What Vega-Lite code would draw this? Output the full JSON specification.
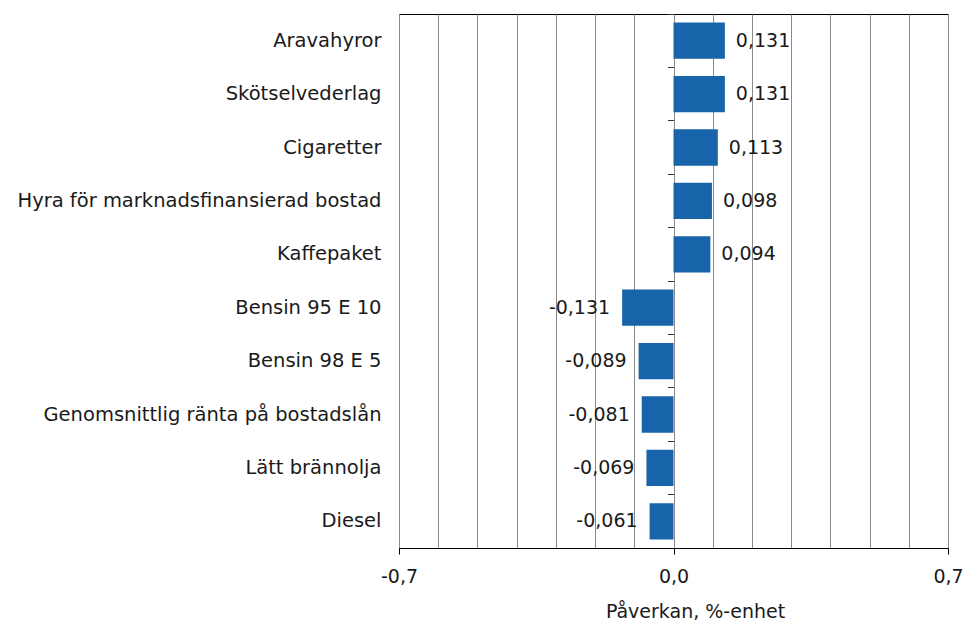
{
  "$schema": "https://vega.github.io/schema/vega-lite/v6.json",
  "width": 549,
  "height": 534,
  "autosize": {"type": "none"},
  "padding": {"left": 399, "top": 14, "right": 18, "bottom": 74},
  "background": "white",
  "config": {
    "locale": {"number": {"decimal": ",", "thousands": "\u00a0", "grouping": [3], "currency": ["", " €"], "minus": "-"}},
    "view": {"stroke": "#000000", "strokeWidth": 1},
    "font": "DejaVu Sans",
    "text": {"font": "DejaVu Sans", "fontSize": 19, "color": "#1a1a1a"}
  },
  "data": {
    "values": [
      {"kategori": "Aravahyror", "varde": 0.131},
      {"kategori": "Skötselvederlag", "varde": 0.131},
      {"kategori": "Cigaretter", "varde": 0.113},
      {"kategori": "Hyra för marknadsfinansierad bostad", "varde": 0.098},
      {"kategori": "Kaffepaket", "varde": 0.094},
      {"kategori": "Bensin 95 E 10", "varde": -0.131},
      {"kategori": "Bensin 98 E 5", "varde": -0.089},
      {"kategori": "Genomsnittlig ränta på bostadslån", "varde": -0.081},
      {"kategori": "Lätt brännolja", "varde": -0.069},
      {"kategori": "Diesel", "varde": -0.061}
    ]
  },
  "resolve": {"axis": {"x": "independent", "y": "independent"}},
  "layer": [
    {
      "mark": {"type": "bar", "color": "#1764ab"},
      "encoding": {
        "y": {
          "field": "kategori", "type": "nominal", "sort": null,
          "scale": {"paddingInner": 0.32, "paddingOuter": 0.16},
          "axis": {"title": null, "ticks": false, "domain": false, "grid": false, "labelFont": "DejaVu Sans", "labelFontSize": 19.5, "labelColor": "#1a1a1a", "labelPadding": 18, "labelLimit": 500}
        },
        "x": {
          "field": "varde", "type": "quantitative",
          "scale": {"domain": [-0.7, 0.7], "nice": false, "zero": false},
          "axis": {"values": [-0.7, 0, 0.7], "format": ".1f", "grid": false, "labelFlush": false, "domainColor": "#000000", "tickColor": "#000000", "tickSize": 6, "labelFont": "DejaVu Sans", "labelFontSize": 19, "labelColor": "#1a1a1a", "labelPadding": 13, "title": "Påverkan, %-enhet", "titleFont": "DejaVu Sans", "titleFontSize": 19, "titleFontWeight": "normal", "titleColor": "#1a1a1a", "titleX": 296, "titleY": 69, "titleBaseline": "alphabetic"}
        }
      }
    },
    {
      "transform": [{"filter": "datum.varde > 0"}],
      "mark": {"type": "text", "align": "left", "baseline": "middle", "dx": 11},
      "encoding": {
        "y": {
          "field": "kategori", "type": "nominal", "sort": null,
          "axis": {"orient": "left", "offset": -274.5, "labels": false, "domain": false, "grid": false, "ticks": true, "tickSize": 6, "tickColor": "#333333", "bandPosition": 0, "tickOffset": -9, "title": null}
        },
        "x": {
          "field": "varde", "type": "quantitative",
          "axis": {"orient": "top", "values": [-0.7, -0.6, -0.5, -0.4, -0.3, -0.2, -0.1, 0, 0.1, 0.2, 0.3, 0.4, 0.5, 0.6, 0.7], "grid": true, "gridColor": "#8a8a8a", "gridWidth": 1, "labels": false, "ticks": false, "domain": false, "title": null}
        },
        "text": {"field": "varde", "type": "quantitative", "format": ".3f"}
      }
    },
    {
      "transform": [{"filter": "datum.varde < 0"}],
      "mark": {"type": "text", "align": "right", "baseline": "middle", "dx": -12},
      "encoding": {
        "y": {"field": "kategori", "type": "nominal", "sort": null, "axis": null},
        "x": {"field": "varde", "type": "quantitative", "axis": null},
        "text": {"field": "varde", "type": "quantitative", "format": ".3f"}
      }
    }
  ]
}
